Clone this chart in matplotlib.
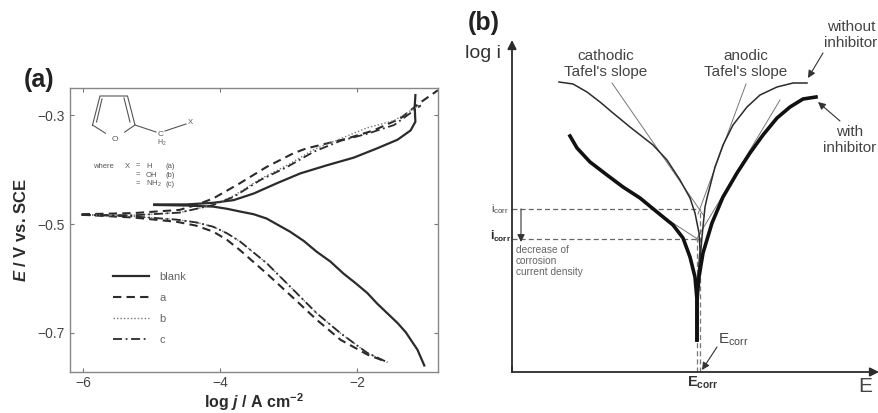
import matplotlib
matplotlib.use("Agg")
import matplotlib.pyplot as plt

plt.rcParams['font.family'] = ['Liberation Sans', 'DejaVu Sans']
plt.rcParams['mathtext.fontset'] = 'custom'
plt.rcParams['mathtext.rm'] = 'Liberation Sans'
plt.rcParams['mathtext.it'] = 'Liberation Sans:italic'
plt.rcParams['mathtext.bf'] = 'Liberation Sans:bold'
plt.rcParams['mathtext.bfit'] = 'Liberation Sans:italic:bold'

W, H = 879, 413

# panel a
blank_x = [-4.96, -4.49, -4.10, -3.80, -3.51, -3.17, -2.83, -2.44, -2.05, -1.71, -1.41, -1.22, -1.15, -1.16, -1.15]
blank_y = [-0.464, -0.464, -0.461, -0.456, -0.444, -0.425, -0.407, -0.392, -0.378, -0.361, -0.345, -0.328, -0.312, -0.285, -0.263]
blank_cx = [-4.96, -4.49, -4.10, -3.90, -3.71, -3.51, -3.32, -3.15, -2.98, -2.78, -2.59, -2.39, -2.20, -2.02, -1.85, -1.71,
            -1.56, -1.41, -1.29, -1.20, -1.12, -1.02]
blank_cy = [-0.465, -0.466, -0.468, -0.472, -0.477, -0.482, -0.490, -0.502, -0.514, -0.531, -0.551, -0.569, -0.591, -0.609,
            -0.627, -0.646, -0.664, -0.682, -0.699, -0.716, -0.731, -0.760]

a_x = [-6.02, -5.27, -4.59, -4.35, -4.10, -3.71, -3.32, -2.93, -2.74, -2.54, -2.15, -1.76, -1.37, -1.07, -0.82]
a_y = [-0.482, -0.480, -0.474, -0.465, -0.453, -0.425, -0.395, -0.370, -0.361, -0.355, -0.343, -0.328, -0.306, -0.276, -0.254]
a_cx = [-6.02, -5.27, -4.63, -4.35, -4.10, -3.90, -3.71, -3.32, -2.93, -2.59, -2.24, -1.85, -1.56]
a_cy = [-0.483, -0.488, -0.496, -0.503, -0.514, -0.529, -0.548, -0.591, -0.636, -0.676, -0.713, -0.740, -0.754]

b_x = [-6.02, -5.27, -4.59, -4.10, -3.80, -3.41, -3.02, -2.63, -2.24, -1.85, -1.46, -1.07]
b_y = [-0.483, -0.484, -0.479, -0.465, -0.448, -0.417, -0.392, -0.363, -0.343, -0.323, -0.310, -0.280]
b_cx = [-6.02, -5.27, -4.63, -4.35, -4.10, -3.90, -3.71, -3.32, -2.93, -2.59, -2.24, -1.85, -1.56]
b_cy = [-0.483, -0.486, -0.492, -0.497, -0.505, -0.517, -0.532, -0.572, -0.621, -0.664, -0.701, -0.737, -0.754]

c_x = [-6.02, -5.27, -4.59, -4.10, -3.80, -3.41, -3.02, -2.63, -2.24, -1.85, -1.46, -1.07]
c_y = [-0.483, -0.484, -0.479, -0.465, -0.450, -0.419, -0.395, -0.367, -0.347, -0.334, -0.318, -0.282]
c_cx = [-6.02, -5.27, -4.63, -4.35, -4.10, -3.90, -3.71, -3.32, -2.93, -2.59, -2.24, -1.85, -1.56]
c_cy = [-0.483, -0.486, -0.492, -0.497, -0.505, -0.517, -0.532, -0.572, -0.621, -0.664, -0.701, -0.737, -0.754]

# panel b, schematic units measured from the axis corner
without_cx = [47, 61, 75, 88, 101, 118, 141, 155, 168, 178, 183, 187, 188, 186]
without_cy = [290, 288, 280, 270, 259, 245, 227, 212, 192, 174, 159, 139, 122, 95]
without_ax = [295, 281, 265, 248, 235, 221, 211, 203, 195, 193, 190, 188, 186]
without_ay = [289, 289, 285, 277, 265, 247, 227, 205, 174, 165, 135, 112, 89]
with_cx = [58, 65, 78, 95, 111, 128, 145, 161, 171, 178, 183, 185, 185]
with_cy = [236, 224, 210, 197, 185, 174, 160, 147, 134, 115, 95, 72, 32]
with_ax = [304, 291, 278, 265, 251, 238, 225, 211, 200, 191, 187, 185, 185]
with_ay = [275, 273, 265, 254, 237, 219, 199, 175, 149, 119, 95, 72, 32]
i_corr = [163, 133]
e_corr = [188, 185]

INK = '#2b2b2b'
GREY = '#555555'

fig = plt.figure(figsize=(W / 100, H / 100), dpi=100)


def px_axes(x0, y_top, x1, y_bot):
    return fig.add_axes([x0 / W, 1 - y_bot / H, (x1 - x0) / W, (y_bot - y_top) / H])


# ---- panel a
ax = px_axes(70, 88, 438, 372)
ax.plot(blank_x, blank_y, color=INK, lw=1.6, label='blank')
ax.plot(blank_cx, blank_cy, color=INK, lw=1.6)
ax.plot(a_x, a_y, color=INK, lw=1.5, ls=(0, (4, 2.5)), label='a')
ax.plot(a_cx, a_cy, color=INK, lw=1.5, ls=(0, (4, 2.5)))
ax.plot(b_x, b_y, color='#777777', lw=1.0, ls=(0, (1, 1.5)), label='b')
ax.plot(b_cx, b_cy, color='#777777', lw=1.0, ls=(0, (1, 1.5)))
ax.plot(c_x, c_y, color=INK, lw=1.3, ls=(0, (5, 2, 1, 2)), label='c')
ax.plot(c_cx, c_cy, color=INK, lw=1.3, ls=(0, (5, 2, 1, 2)))
ax.set_xlim(-6.19, -0.82)
ax.set_ylim(-0.772, -0.25)
ax.set_xticks([-6, -4, -2])
ax.set_yticks([-0.7, -0.5, -0.3])
ax.set_xticklabels(['\u22126', '\u22124', '\u22122'])
ax.set_yticklabels(['\u22120.7', '\u22120.5', '\u22120.3'])
ax.tick_params(labelsize=10, labelcolor='#444444', color='#777777', direction='in', length=3, width=0.8,
               top=True, right=True, pad=4)
ax.tick_params(axis='x', pad=3)
for s in ax.spines.values():
    s.set_color('#888888')
    s.set_linewidth(1.0)
ax.set_xlabel(r'log $\mathbfit{j}$ / A cm$^{\mathbf{-2}}$', fontsize=11.5, fontweight='bold', color=INK, labelpad=1)
ax.set_ylabel(r'$\mathbfit{E}$ / V vs. SCE', fontsize=12, fontweight='bold', color=INK, labelpad=6)
leg = ax.legend(loc='lower left', bbox_to_anchor=(0.117, 0.095), frameon=False, fontsize=8, labelspacing=0.98,
                handlelength=3.2, handletextpad=1.0, labelcolor='#666666', borderpad=0, borderaxespad=0)
fig.text(24 / W, 1 - 87 / H, '(a)', fontsize=18, fontweight='bold', color='#222222', ha='left', va='baseline')

# molecule sketch, in pixels of the picture
mol = px_axes(85, 90, 205, 195)
mol.set_xlim(85, 205)
mol.set_ylim(195, 90)
mol.axis('off')
mol.plot([92.5, 100, 127.5, 135, 114.5, 92.5], [125, 96, 96, 125, 139, 125], color=GREY, lw=0.8)
mol.plot([96.5, 102], [122, 99], color=GREY, lw=0.8)
mol.plot([124, 130], [98, 122], color=GREY, lw=0.8)
mol.plot([135, 156], [125, 132], color=GREY, lw=0.8)
mol.plot([165, 186], [131, 124], color=GREY, lw=0.8)
mol.text(114.5, 139, 'O', fontsize=6, color=GREY, ha='center', va='center', backgroundcolor='white')
mol.text(161, 134, 'C', fontsize=6, color=GREY, ha='center', va='center')
mol.text(162, 143, r'H$_2$', fontsize=5, color=GREY, ha='center', va='center')
mol.text(190, 122, 'X', fontsize=5.5, color=GREY, ha='center', va='center')
for label_x, label_y, txt in [(93, 166, 'where'), (125, 166, 'X'), (136, 166, '='), (136, 175, '='), (136, 184, '='),
                              (146, 166, 'H'), (146, 175, 'OH'), (146, 184, r'NH$_2$'),
                              (165, 166, '(a)'), (165, 175, '(b)'), (165, 184, '(c)')]:
    mol.text(label_x, label_y, txt, fontsize=5.5, color=GREY, ha='left', va='center')

# ---- panel b, axes span x 440..879 and y 0..413 in the picture
bx = px_axes(440, 0, 879, 413)
bx.set_xlim(-72, 367)
bx.set_ylim(-41, 372)
bx.axis('off')
bx.set_zorder(-1)


def arrow(x0, y0, x1, y1, lw=0.9, color=INK, scale=9):
    bx.annotate('', xy=(x1, y1), xytext=(x0, y0),
                arrowprops=dict(arrowstyle='-|>', color=color, lw=lw, mutation_scale=scale, shrinkA=0, shrinkB=0))


arrow(0, 0, 0, 332, lw=1.3, scale=13)
arrow(0, 0, 367, 0, lw=1.3, scale=13)
bx.plot([0, 0], [0, 5], color=INK, lw=1.3)

for yy, xx in zip(i_corr, e_corr):
    bx.plot([0, xx], [yy, yy], color='#666666', lw=0.9, ls=(0, (4, 2.5)))
    bx.plot([xx, xx], [0, yy], color='#777777', lw=0.9, ls=(0, (4, 2.5)))

# tangents
for tx, ty in [([100, 192], [289, 156]), ([234, 186], [288, 158]),
               ([268, 184], [272, 132]), ([141, 187], [162, 132])]:
    bx.plot(tx, ty, color='#777777', lw=0.7)

bx.plot(without_cx, without_cy, color=INK, lw=1.1)
bx.plot(without_ax, without_ay, color=INK, lw=1.1)
bx.plot(with_cx, with_cy, color='#111111', lw=2.6)
bx.plot(with_ax, with_ay, color='#111111', lw=2.6)

arrow(9, 163, 9, 130, lw=0.8, color='#333333', scale=11)
arrow(205, 25, 190, 2, lw=0.8, color='#333333', scale=11)
arrow(311, 319, 296, 294, lw=0.8, color='#333333', scale=11)
arrow(328, 251, 306, 270, lw=0.8, color='#333333', scale=11)


def label(px, py, txt, size=10, ha='center', **kw):
    bx.text(px - 512, 372 - py, txt, fontsize=size, ha=ha, va='center', color=kw.pop('color', '#444444'),
            linespacing=1.15, **kw)


label(468, 23, '(b)', size=18, ha='left', fontweight='bold', color='#222222')
label(465, 53, 'log i', size=14, ha='left', color='#333333')
label(606, 64, "cathodic\nTafel's slope", size=11)
label(746, 64, "anodic\nTafel's slope", size=11)
label(851, 35, 'without\ninhibitor', size=11)
label(850, 140, 'with\ninhibitor', size=11)
label(491, 209, r'i$_{\mathrm{corr}}$', size=8, ha='left')
label(490, 236, r'$\mathbf{i}_{\mathbf{corr}}$', size=8.5, ha='left', color='#222222')
label(516, 261, 'decrease of\ncorrosion\ncurrent density', size=7.3, ha='left', color='#666666')
label(718, 340, r'E$_{\mathrm{corr}}$', size=11, ha='left')
label(687, 383, r'$\mathbf{E}_{\mathbf{corr}}$', size=10.5, ha='left', color='#333333')
label(858, 387, 'E', size=15, ha='left')

fig.savefig('out.png', dpi=100)
